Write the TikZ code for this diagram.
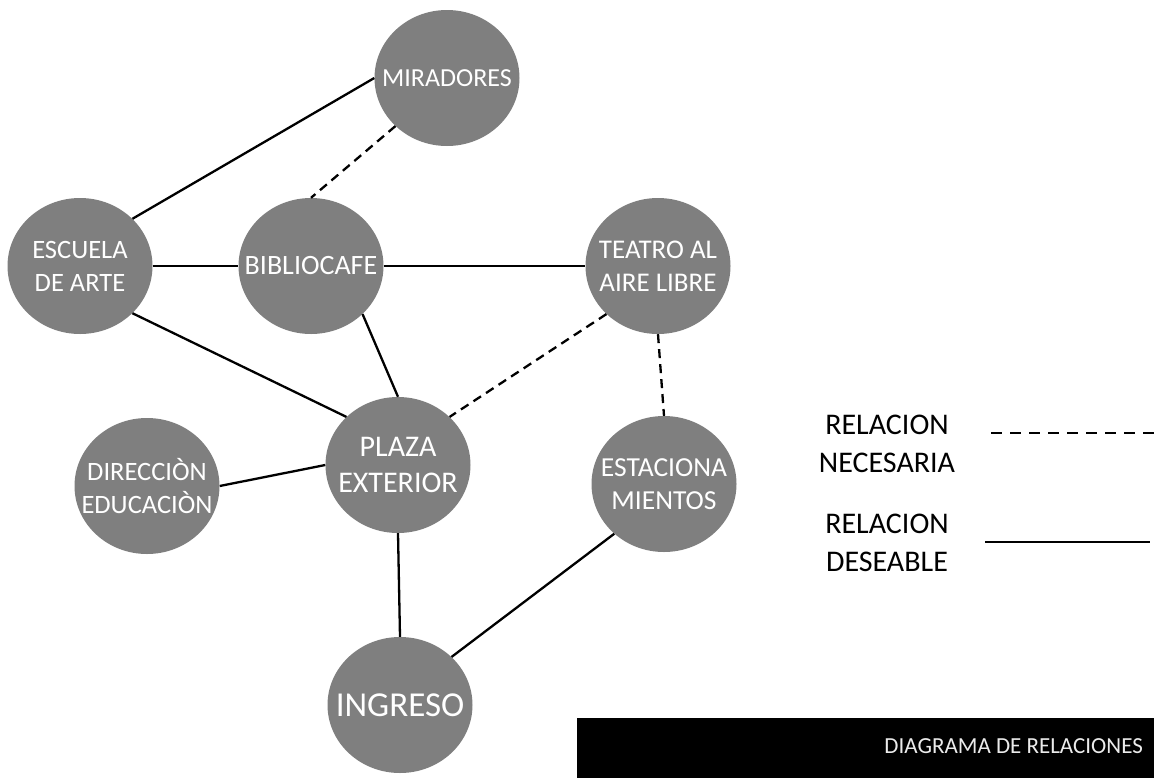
\documentclass[tikz,border=0pt]{standalone}
\usepackage{fontspec}
\setmainfont{Carlito}
\usetikzlibrary{shapes.geometric}
\definecolor{bubble}{HTML}{7F7F7F}
\tikzset{
  bub/.style={ellipse, fill=bubble, draw=none, minimum width=145pt, minimum height=136pt, inner sep=0pt},
  lbl/.style={text=white, align=center, inner sep=0pt},
  deseable/.style={draw=black, line width=2.3pt},
  necesaria/.style={draw=black, line width=2.3pt, dash pattern=on 9pt off 6pt},
  legtxt/.style={text=black, align=center, inner sep=0pt, font=\fontsize{30}{38}\selectfont},
}
\newcommand{\fs}[2]{\fontsize{#1}{#2}\selectfont}
\begin{document}
\begin{tikzpicture}[x=1pt,y=-1pt]
\useasboundingbox (0,0) rectangle (1154,782);
% nodes
\node[bub, label={[lbl,font=\fs{26}{33}]center:{MIRADORES}}] (mir) at (447,78) {};
\node[bub, label={[lbl,font=\fs{26.5}{33}]center:{ESCUELA\\DE ARTE}}] (esc) at (80,266) {};
\node[bub, label={[lbl,font=\fs{28}{34}]center:{BIBLIOCAFE}}] (bib) at (311,266) {};
\node[bub, label={[lbl,font=\fs{27}{33}]center:{TEATRO AL\\AIRE LIBRE}}] (tea) at (658,266) {};
\node[bub, label={[lbl,font=\fs{30}{36}]center:{PLAZA\\EXTERIOR}}] (pla) at (398,465) {};
\node[bub, label={[lbl,font=\fs{26.5}{33}]center:{DIRECCIÒN\\EDUCACIÒN}}] (dir) at (147,486) {};
\node[bub, label={[lbl,font=\fs{27.5}{33}]center:{ESTACIONA\\MIENTOS}}] (est) at (664,484) {};
\node[bub, label={[lbl,font=\fs{35}{40}]center:{INGRESO}}] (ing) at (400,705) {};
% connectors
\draw[deseable] (esc.42.7) -- (mir.180);
\draw[necesaria] (mir.223) -- (bib.90);
\draw[deseable] (esc.0) -- (bib.180);
\draw[deseable] (bib.0) -- (tea.180);
\draw[deseable] (esc.-42) -- (pla.137);
\draw[deseable] (bib.-43) -- (pla.90);
\draw[necesaria] (tea.223) -- (pla.43);
\draw[necesaria] (tea.270) -- (est.90);
\draw[deseable] (dir.0) -- (pla.180);
\draw[deseable] (pla.270) -- (ing.90);
\draw[deseable] (est.225) -- (ing.43);
% legend
\node[legtxt] (lgN) at (887,444) {RELACION\\NECESARIA};
\node[legtxt] (lgD) at (887,543) {RELACION\\DESEABLE};
\coordinate (nA) at (991,433);
\coordinate (nB) at (1154,433);
\coordinate (dA) at (985,542);
\coordinate (dB) at (1150,542);
\draw[draw=black, line width=1.8pt, dash pattern=on 11pt off 8pt] (nA) -- (nB);
\draw[draw=black, line width=1.8pt] (dA) -- (dB);
% title bar
\node[fill=black, draw=none, minimum width=577pt, minimum height=60pt, inner sep=0pt, anchor=north west] (bar) at (577,718) {};
\node[text=white!92!black, anchor=base east, inner sep=0pt, font=\fs{23}{28}] (title) at (1143,753) {DIAGRAMA DE RELACIONES};
\end{tikzpicture}
\end{document}
